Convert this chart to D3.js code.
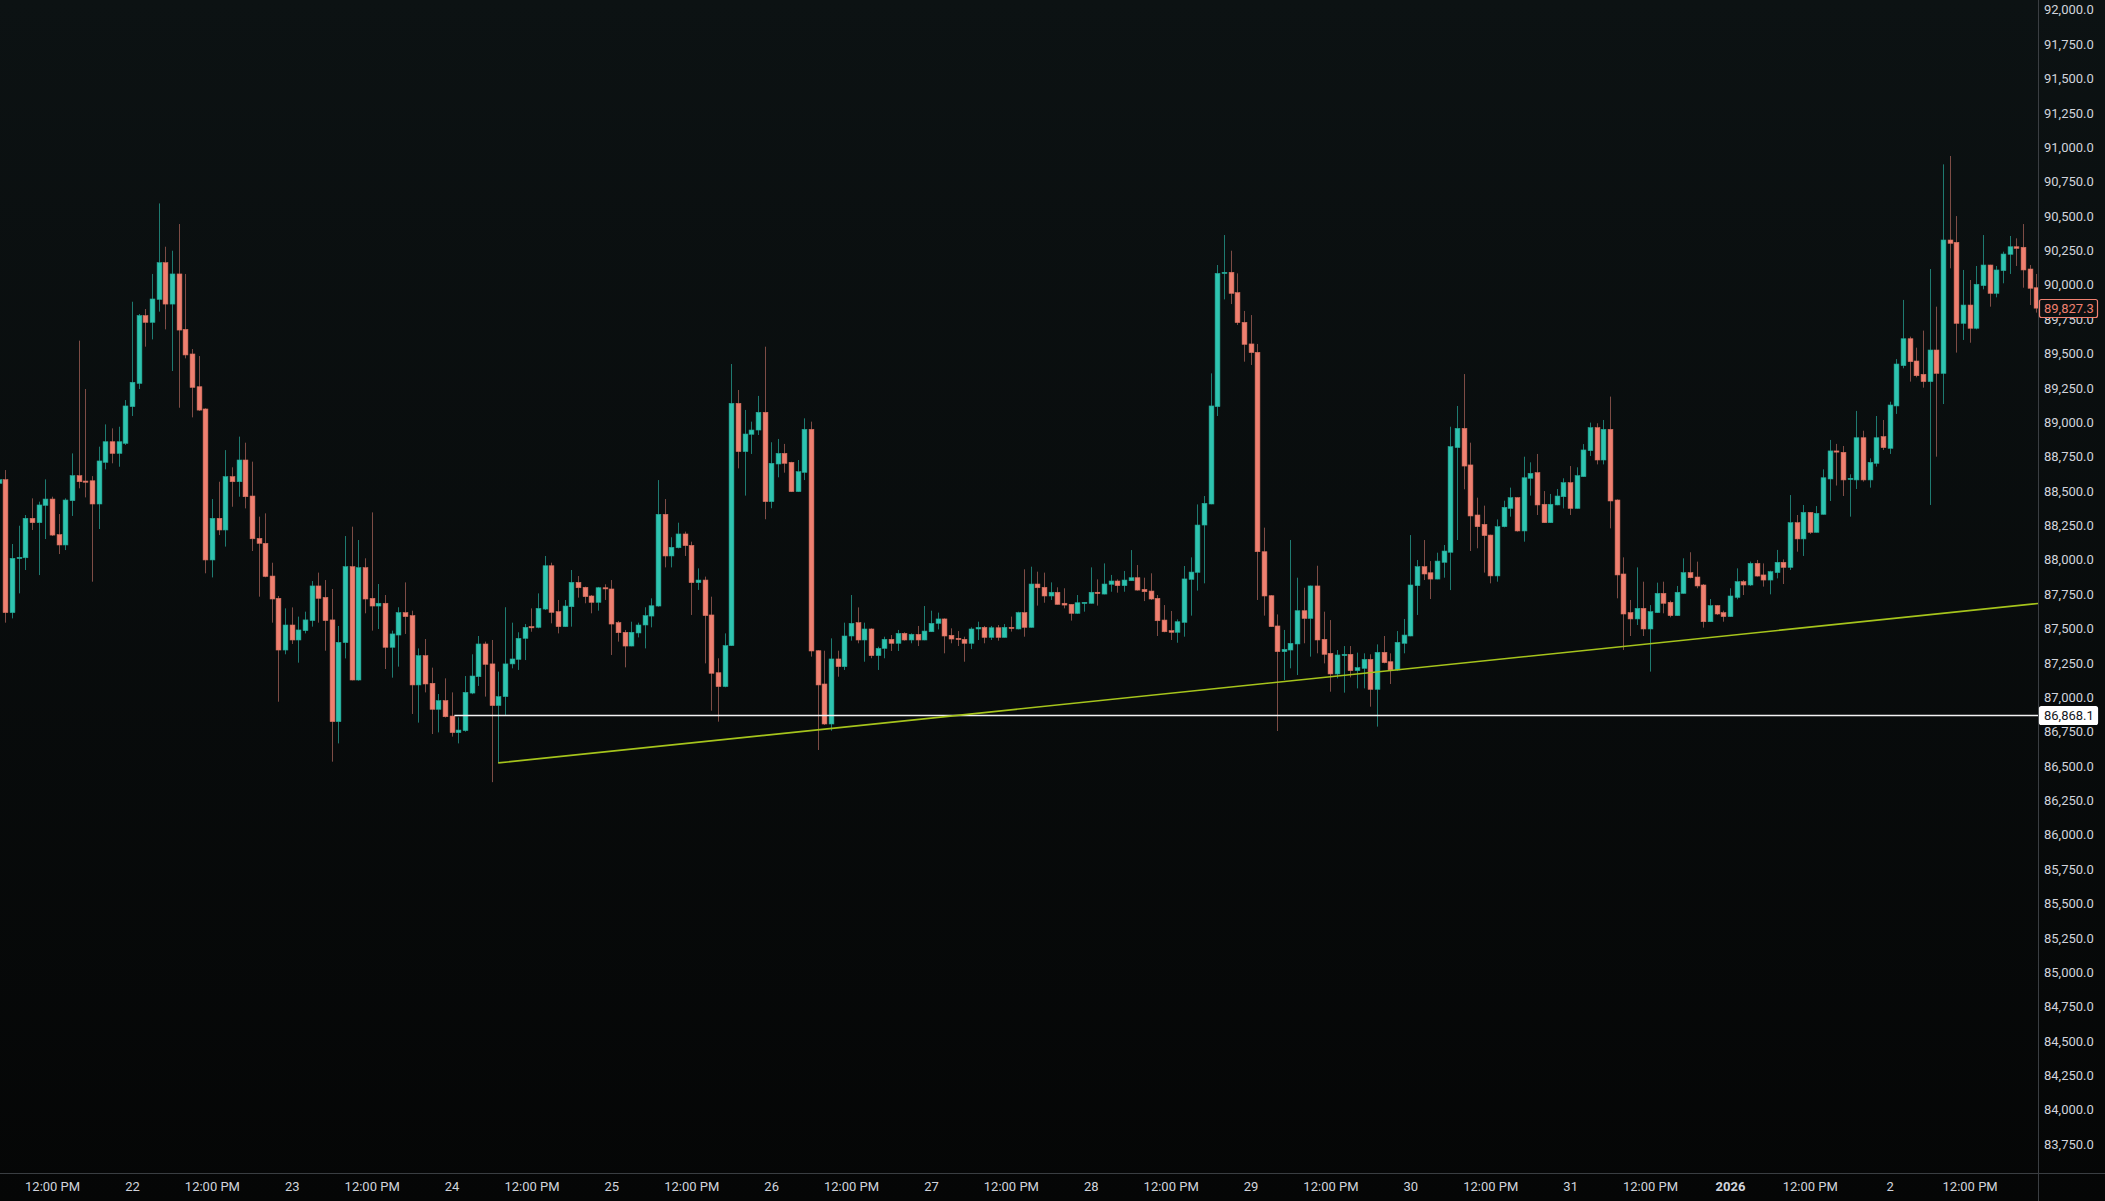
<!DOCTYPE html>
<html><head><meta charset="utf-8">
<script src="https://cdn.jsdelivr.net/npm/d3@7"></script>
<style>html,body{margin:0;padding:0;background:#060707;overflow:hidden}svg{display:block}</style>
</head><body>
<svg id="chart" width="2105" height="1201"></svg>
<script>
// ---- data (hourly BTC candles, first candle 2025-12-21 04:00) ----
const firstCandle = "2025-12-21T04:00";
const opens = [
88553,88580,87613,88008,88012,88299,88267,88393,88439,88180,
88105,88427,88609,88570,88572,88403,88706,88856,88771,88844,
89111,89280,89773,89724,89891,90158,89857,90076,89673,89494,
89256,89094,87996,88299,88214,88602,88565,88723,88461,88153,
88117,87879,87717,87341,87523,87414,87482,87555,87807,87724,
87560,86820,87395,87947,87123,87940,87717,87661,87681,87361,
87450,87613,87591,87087,87300,87099,86910,86973,86861,86740,
86755,87028,87147,87385,87240,86937,87002,87240,87273,87426,
87511,87506,87639,87954,87620,87511,87656,87833,87797,87734,
87688,87794,87785,87540,87470,87370,87465,87523,87588,87661,
88328,88025,88085,88185,88102,87831,87850,87596,87176,87075,
87373,89135,88784,88910,88941,89070,88420,88694,88771,88706,
88493,88633,88946,87336,87094,86803,87276,87220,87443,87540,
87414,87494,87300,87353,87419,87390,87462,87414,87455,87414,
87474,87535,87567,87448,87426,87419,87390,87494,87506,87433,
87503,87433,87506,87494,87613,87506,87821,87797,87734,87761,
87681,87673,87608,87681,87681,87761,87748,87819,87843,87809,
87845,87867,87782,87770,87717,87559,87482,87470,87542,87855,
87906,88250,88403,89111,90080,90088,89940,89724,89567,89506,
88056,87736,87516,87329,87341,87385,87627,87571,87807,87419,
87317,87167,87300,87310,87191,87208,87273,87055,87324,87256,
87196,87390,87443,87809,87947,87903,87857,87979,88052,88813,
88953,88687,88323,88255,88177,87880,88238,88371,88449,88207,
88590,88631,88401,88267,88396,88456,88558,88371,88602,88791,
88958,88723,88946,88432,87894,87613,87567,87644,87494,87613,
87753,87688,87591,87753,87904,87872,87814,87547,87664,87613,
87584,87724,87838,87814,87971,87887,87850,87904,87979,87942,
88267,88149,88342,88197,88328,88585,88789,88779,88582,88578,
88885,88578,88699,88893,88808,89116,89409,89605,89443,89346,
89293,89523,89353,90323,90306,89717,89850,89681,89991,90141,
89935,90100,90219,90274,90270,90112,89976];
const highs = [
88880,88650,88112,88245,88323,88444,88420,88582,88456,88330,
88444,88771,89591,89239,88606,88820,88982,88953,88965,89159,
89874,89785,89821,90076,90589,90274,90245,90439,90076,89530,
89479,89099,88439,88565,88795,88670,88893,88849,88711,88311,
88335,87976,87734,87644,87651,87584,87620,87843,87904,87850,
87785,87516,88170,88238,88141,88008,88342,87821,87741,87482,
87652,87833,87627,87353,87421,87213,87021,87135,87033,86851,
87152,87310,87443,87402,87414,87184,87652,87540,87470,87530,
87644,87753,88025,87976,87705,87705,87923,87879,87802,87741,
87800,87819,87850,87552,87487,87547,87540,87652,87717,88577,
88439,88161,88267,88202,88129,87935,87875,87729,87281,87462,
89421,89232,89087,89002,89189,89547,88852,88876,88840,88710,
88723,89026,89002,87340,87336,87426,87336,87540,87741,87651,
87540,87499,87365,87438,87450,87487,87470,87462,87516,87661,
87627,87613,87571,87499,87479,87438,87506,87547,87516,87516,
87523,87530,87584,87620,87928,87947,87911,87904,87833,87797,
87790,87675,87741,87690,87942,87855,87971,87887,87855,87916,
88068,87959,87867,87899,87741,87668,87625,87564,87952,88015,
88400,88461,89353,90141,90359,90245,90080,89807,89777,89567,
88231,87741,87600,87487,88141,87867,87794,87810,87954,87620,
87559,87341,87370,87370,87322,87317,87310,87382,87443,87317,
87479,87567,88177,87996,88141,87988,88049,88105,88965,89116,
89348,88849,88449,88391,88180,88291,88427,88522,88452,88747,
88706,88767,88497,88476,88512,88590,88679,88670,88839,88995,
88990,89014,89184,88437,88015,87705,87942,87838,87668,87831,
87838,87700,87807,88008,88052,87984,87821,87712,87668,87627,
87790,87935,87850,87984,87996,87971,87918,88069,88000,88468,
88323,88396,88344,88388,88655,88869,88840,88825,88619,89080,
88936,88735,89043,89014,89147,89457,89887,89620,89540,89664,
90112,89838,90873,90934,90497,90105,90032,90134,90359,90143,
90134,90238,90352,90335,90439,90141,90076];
const lows = [
88408,87540,87571,87753,87923,88214,87886,88148,88170,88039,
88068,88316,88517,88451,87838,88221,88655,88699,88674,88832,
89043,89239,89547,89600,89802,89673,89370,89103,89462,89033,
89080,87899,87869,88177,88093,88383,88456,88371,88061,87729,
87870,87540,86965,87310,87385,87249,87462,87511,87540,87336,
86529,86662,87280,87120,87118,87608,87482,87494,87203,87140,
87220,87458,86876,86813,87033,86730,86742,86850,86711,86662,
86747,87020,87080,87002,86380,86520,86869,87208,87196,87268,
87474,87499,87632,87535,87462,87508,87511,87722,87681,87608,
87627,87705,87305,87402,87215,87368,87433,87353,87506,87656,
87942,87942,88080,88025,87596,87778,87244,86900,86820,87070,
87370,88662,88464,88767,88905,88292,88372,88597,88631,88490,
88490,88577,87293,86614,86796,86754,87147,87196,87409,87390,
87256,87281,87196,87281,87334,87334,87409,87390,87370,87412,
87472,87491,87317,87390,87370,87256,87348,87414,87390,87414,
87409,87431,87475,87491,87438,87504,87664,87685,87705,87671,
87644,87555,87603,87620,87679,87664,87746,87765,87758,87765,
87843,87773,87697,87705,87443,87470,87414,87394,87438,87591,
87773,87826,88401,89043,89891,89857,89705,89438,89414,87705,
87591,87509,86752,87123,87208,87159,87390,87293,87317,87244,
87038,87135,87031,87142,87062,87062,86929,86784,87244,87094,
87191,87317,87441,87596,87850,87712,87855,87867,87777,88141,
88510,88061,88081,87904,87826,87838,88233,88311,88202,88129,
88464,88323,88265,88265,88394,88371,88323,88369,88600,88752,
88691,88691,88226,87717,87341,87443,87523,87443,87184,87611,
87608,87579,87589,87751,87862,87790,87504,87545,87596,87547,
87582,87710,87741,87807,87875,87802,87746,87862,87821,87923,
88056,88025,88185,88195,88326,88425,88537,88461,88311,88512,
88566,88522,88675,88796,88767,89058,89390,89293,89324,89249,
88396,88747,89130,90117,89504,89596,89576,89673,89964,89838,
89906,90008,90076,90134,89976,89850,89795];
const closes = [
88580,87613,88008,88015,88299,88267,88396,88439,88177,88105,
88432,88609,88565,88565,88403,88716,88856,88771,88856,89116,
89288,89773,89724,89894,90158,89857,90076,89668,89487,89251,
89086,87996,88299,88214,88602,88565,88723,88456,88150,88117,
87876,87712,87341,87523,87414,87487,87560,87807,87717,87555,
86820,87397,87947,87123,87940,87712,87661,87681,87361,87458,
87613,87584,87087,87300,87094,86910,86973,86856,86740,86759,
87033,87152,87385,87237,86937,87002,87240,87276,87426,87506,
87506,87644,87954,87615,87511,87661,87833,87794,87729,87688,
87794,87787,87530,87467,87370,87470,87523,87591,87663,88328,
88025,88088,88185,88100,87831,87850,87591,87172,87075,87373,
89135,88784,88912,88941,89070,88420,88699,88771,88699,88493,
88638,88946,87334,87087,86803,87276,87220,87443,87535,87414,
87494,87300,87353,87419,87390,87462,87414,87455,87414,87479,
87535,87567,87443,87421,87424,87390,87494,87506,87433,87503,
87433,87506,87500,87613,87506,87821,87794,87734,87761,87673,
87668,87608,87685,87688,87761,87753,87821,87843,87809,87850,
87867,87777,87765,87712,87554,87474,87470,87547,87858,87908,
88250,88408,89116,90080,90088,89935,89722,89564,89504,88056,
87734,87511,87329,87346,87390,87627,87571,87807,87414,87310,
87167,87305,87310,87191,87213,87273,87055,87324,87249,87196,
87397,87450,87814,87947,87894,87857,87988,88061,88820,88953,
88679,88316,88238,88173,87880,88238,88379,88449,88207,88594,
88626,88396,88267,88401,88461,88558,88371,88609,88796,88958,
88723,88946,88425,87887,87603,87567,87644,87494,87620,87753,
87681,87591,87761,87904,87867,87807,87547,87664,87603,87584,
87734,87838,87814,87971,87879,87850,87911,87979,87942,88267,
88149,88342,88197,88335,88594,88789,88781,88578,88590,88885,
88578,88706,88885,88813,89123,89421,89605,89438,89336,89293,
89523,89353,90323,90299,89717,89850,89681,90001,90141,89935,
90105,90221,90274,90262,90105,89972,89827.3];

const xTickTimes = ["2025-12-21T12:00","2025-12-22T00:00","2025-12-22T12:00","2025-12-23T00:00","2025-12-23T12:00",
  "2025-12-24T00:00","2025-12-24T12:00","2025-12-25T00:00","2025-12-25T12:00","2025-12-26T00:00","2025-12-26T12:00",
  "2025-12-27T00:00","2025-12-27T12:00","2025-12-28T00:00","2025-12-28T12:00","2025-12-29T00:00","2025-12-29T12:00",
  "2025-12-30T00:00","2025-12-30T12:00","2025-12-31T00:00","2025-12-31T12:00","2026-01-01T00:00","2026-01-01T12:00",
  "2026-01-02T00:00","2026-01-02T12:00"];
const xTickLabels = ["12:00 PM","22","12:00 PM","23","12:00 PM","24","12:00 PM","25","12:00 PM","26","12:00 PM",
  "27","12:00 PM","28","12:00 PM","29","12:00 PM","30","12:00 PM","31","12:00 PM","2026","12:00 PM","2","12:00 PM"];
const yTickValues = [83750,84000,84250,84500,84750,85000,85250,85500,85750,86000,86250,86500,86750,87000,87250,
  87500,87750,88000,88250,88500,88750,89000,89250,89500,89750,90000,90250,90500,90750,91000,91250,91500,91750,92000];

const hLinePrice = 86868.1;
const hLineStart = "2025-12-24T00:25";
const trendTimes = ["2025-12-24T07:00","2026-01-02T16:00"];
const trendPrices = [86520, 87648];
const lastPrice = 89827.3;

// ---- layout ----
const W = 2105, H = 1201, plotR = 2038, plotB = 1173;
const parse = d3.timeParse("%Y-%m-%dT%H:%M");
const t0 = parse(firstCandle);
const candles = opens.map((o,i)=>({t:d3.timeHour.offset(t0,i),o,h:highs[i],l:lows[i],c:closes[i]}));
const tLast = candles[candles.length-1].t;

const x = d3.scaleTime().domain([t0, tLast]).range([-1.16, 2036.2]);
const y = d3.scaleLinear().domain([83750, 92000]).range([1143.8, 9.4]);

const svg = d3.select("#chart");
const defs = svg.append("defs");
const grad = defs.append("linearGradient").attr("id","bg").attr("x1",0).attr("y1",0).attr("x2",0).attr("y2",1);
grad.append("stop").attr("offset","0%").attr("stop-color","#0c1213");
grad.append("stop").attr("offset","100%").attr("stop-color","#050606");
defs.append("clipPath").attr("id","plot").append("rect").attr("x",0).attr("y",0).attr("width",plotR).attr("height",plotB);

svg.append("rect").attr("width",W).attr("height",H).attr("fill","url(#bg)");

const UP = "#2ec4b0", DN = "#ef8070", UPW = "#1e7a70", DNW = "#7d4c45";
const g = svg.append("g").attr("clip-path","url(#plot)");
const bw = 4.8;

// wicks
g.append("g").selectAll("line").data(candles).join("line")
  .attr("x1",d=>Math.round(x(d.t))+0.5).attr("x2",d=>Math.round(x(d.t))+0.5)
  .attr("y1",d=>y(Math.max(d.h,d.o,d.c))).attr("y2",d=>y(Math.min(d.l,d.o,d.c)))
  .attr("stroke",d=>d.c>=d.o?UPW:DNW).attr("stroke-width",1);
// bodies
g.append("g").selectAll("rect").data(candles).join("rect")
  .attr("x",d=>Math.round(x(d.t))+0.5-bw/2)
  .attr("width",bw)
  .attr("y",d=>y(Math.max(d.o,d.c)))
  .attr("height",d=>Math.max(1.2, Math.abs(y(d.o)-y(d.c))))
  .attr("fill",d=>d.c>=d.o?UP:DN)
  .attr("stroke",d=>d.c>=d.o?"#25a896":"#d8705f").attr("stroke-width",0.6);

// horizontal ray
g.append("line").attr("x1",x(parse(hLineStart))).attr("x2",plotR)
  .attr("y1",Math.round(y(hLinePrice))+0.5).attr("y2",Math.round(y(hLinePrice))+0.5)
  .attr("stroke","#f2f2f2").attr("stroke-width",1.3);

// trend line (ray)
const tx = trendTimes.map(s=>x(parse(s)));
const ty = trendPrices.map(p=>y(p));
const slope = (ty[1]-ty[0])/(tx[1]-tx[0]);
g.append("line").attr("x1",tx[0]).attr("y1",ty[0]).attr("x2",plotR).attr("y2",ty[0]+slope*(plotR-tx[0]))
  .attr("stroke","#a6c41c").attr("stroke-width",1.6);

// separators
svg.append("line").attr("x1",plotR+0.5).attr("x2",plotR+0.5).attr("y1",0).attr("y2",H).attr("stroke","#3a3e42").attr("stroke-width",1);
svg.append("line").attr("x1",0).attr("x2",W).attr("y1",plotB+0.5).attr("y2",plotB+0.5).attr("stroke","#3a3e42").attr("stroke-width",1);

const font = "Roboto, 'Noto Sans', 'DejaVu Sans', sans-serif";
const fmt = d3.format(",.1f");
// y axis labels
const yAxis = d3.axisRight(y).tickValues(yTickValues).tickFormat(fmt).tickSize(0).tickPadding(0);
const ya = svg.append("g").attr("transform",`translate(${plotR+6},0)`).call(yAxis);
ya.select(".domain").remove();
ya.selectAll("text").attr("fill","#d1d4dc").attr("font-family",font).attr("font-size",13).attr("dy","0.35em");

// x axis labels
const xTimes = xTickTimes.map(parse);
const xAxis = d3.axisBottom(x).tickValues(xTimes).tickFormat((d,i)=>xTickLabels[i]).tickSize(0).tickPadding(0);
const xa = svg.append("g").attr("transform",`translate(0,${plotB+8})`).call(xAxis);
xa.select(".domain").remove();
xa.selectAll("text").attr("fill","#d1d4dc").attr("font-family",font).attr("font-size",13).attr("dy","0.75em")
  .attr("font-weight",(d,i)=>xTickLabels[i]==="2026"?"bold":"normal");

// price labels
function priceTag(p, fill, stroke, color){
  const yy = y(p);
  const gg = svg.append("g");
  gg.append("rect").attr("x",plotR+1.5).attr("y",Math.round(yy)-8.5).attr("width",58).attr("height",18).attr("rx",2)
    .attr("fill",fill).attr("stroke",stroke).attr("stroke-width",1.2);
  gg.append("text").attr("x",plotR+6).attr("y",yy).attr("dy","0.35em").attr("fill",color)
    .attr("font-family",font).attr("font-size",13).text(fmt(p));
}
priceTag(lastPrice, "#0b1011", DN, DN);
priceTag(hLinePrice, "#ffffff", "#ffffff", "#131722");
</script>
</body></html>
